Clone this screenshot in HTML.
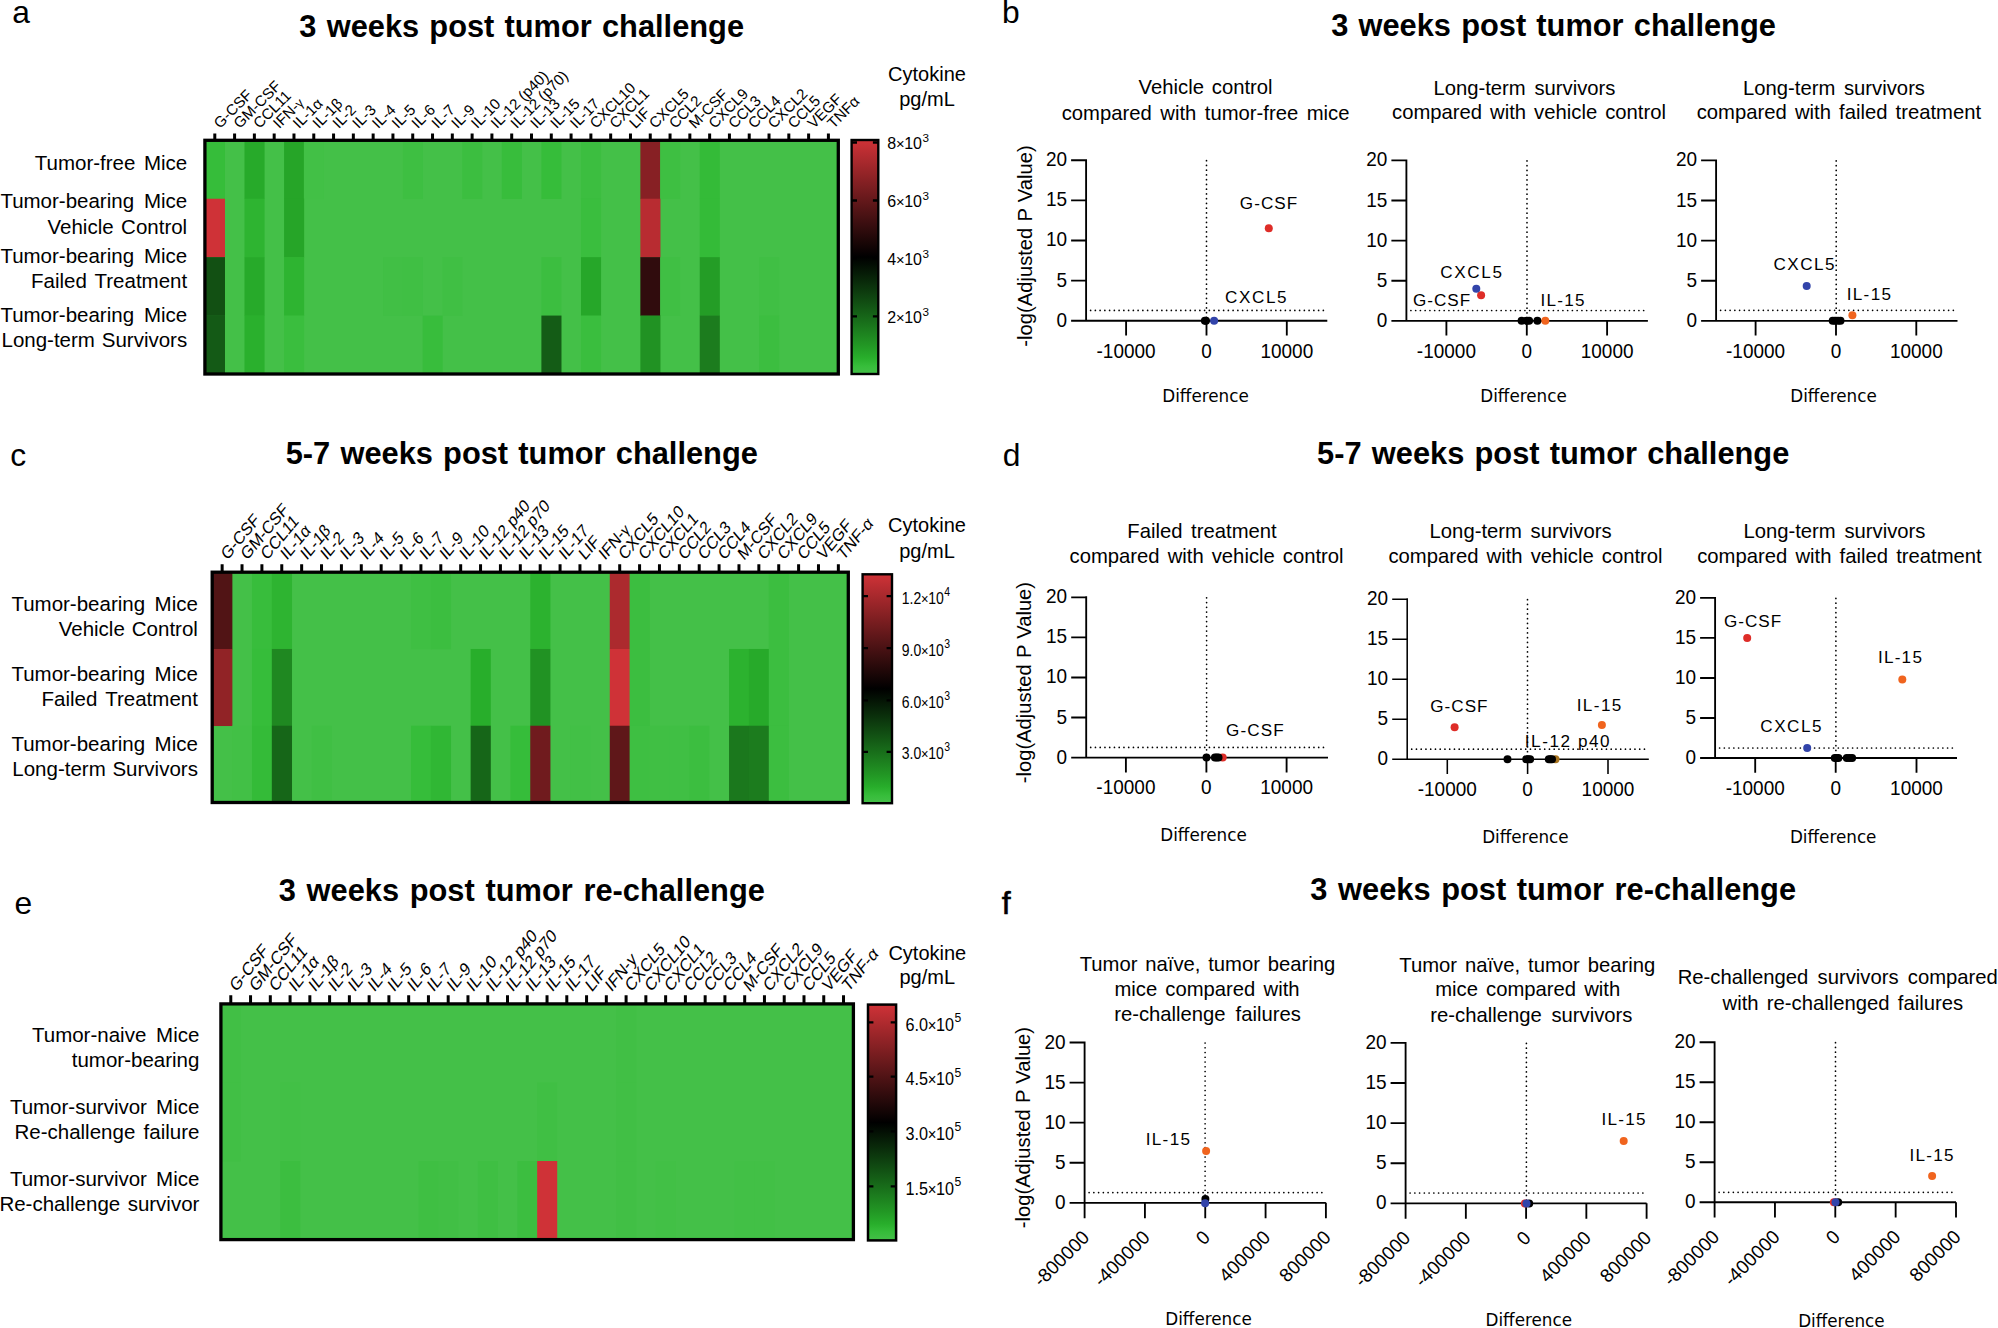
<!DOCTYPE html>
<html lang="en"><head><meta charset="utf-8"><title>Cytokine figure</title>
<style>html,body{margin:0;padding:0;background:#fff}svg{display:block}text{font-family:"Liberation Sans",sans-serif;fill:#000}</style>
</head><body>
<svg width="1998" height="1328" viewBox="0 0 1998 1328">
<defs><linearGradient id="cb" x1="0" y1="0" x2="0" y2="1"><stop offset="0" stop-color="#cf3237"/><stop offset="0.5" stop-color="#000000"/><stop offset="0.625" stop-color="#0b320c"/><stop offset="0.75" stop-color="#166418"/><stop offset="0.875" stop-color="#229624"/><stop offset="0.93" stop-color="#28ae2b"/><stop offset="0.965" stop-color="#36bd3a"/><stop offset="1" stop-color="#44c048"/></linearGradient></defs>
<rect width="1998" height="1328" fill="#fff"/>
<text x="12.2" y="23.1" font-size="31.8">a</text>
<text x="1002" y="22.9" font-size="31.8">b</text>
<text x="10.3" y="466.4" font-size="31.8">c</text>
<text x="1002.7" y="466.2" font-size="31.8">d</text>
<text x="14.5" y="914" font-size="31.8">e</text>
<text x="1001.7" y="913.9" font-size="32" stroke="#000" stroke-width="0.6">f</text>
<text x="521.7" y="36.6" font-size="30.8" text-anchor="middle" font-weight="bold" word-spacing="1.63">3 weeks post tumor challenge</text>
<text x="1553.5" y="35.6" font-size="30.8" text-anchor="middle" font-weight="bold" word-spacing="1.63">3 weeks post tumor challenge</text>
<text x="521.8" y="464" font-size="30.8" text-anchor="middle" font-weight="bold" word-spacing="1.66">5-7 weeks post tumor challenge</text>
<text x="1553.2" y="463.6" font-size="30.8" text-anchor="middle" font-weight="bold" word-spacing="1.66">5-7 weeks post tumor challenge</text>
<text x="521.8" y="901" font-size="30.8" text-anchor="middle" font-weight="bold" word-spacing="2.16">3 weeks post tumor re-challenge</text>
<text x="1553.2" y="900" font-size="30.8" text-anchor="middle" font-weight="bold" word-spacing="2.04">3 weeks post tumor re-challenge</text>
<rect x="204.9" y="140.3" width="633.4" height="233.7" fill="#44c048"/>
<rect x="204.9" y="140.3" width="20.09" height="58.72" fill="#36bd3a"/>
<rect x="244.49" y="140.3" width="20.09" height="58.72" fill="#27aa2a"/>
<rect x="284.07" y="140.3" width="20.09" height="58.72" fill="#26a528"/>
<rect x="303.87" y="140.3" width="20.09" height="58.72" fill="#42c046"/>
<rect x="402.84" y="140.3" width="20.09" height="58.72" fill="#3ebf42"/>
<rect x="462.22" y="140.3" width="20.09" height="58.72" fill="#3cbe40"/>
<rect x="501.81" y="140.3" width="20.09" height="58.72" fill="#38bd3c"/>
<rect x="541.39" y="140.3" width="20.09" height="58.72" fill="#36bd3a"/>
<rect x="580.98" y="140.3" width="20.09" height="58.72" fill="#3cbe40"/>
<rect x="640.36" y="140.3" width="20.09" height="58.72" fill="#872024"/>
<rect x="660.16" y="140.3" width="20.09" height="58.72" fill="#3ebf42"/>
<rect x="699.74" y="140.3" width="20.09" height="58.72" fill="#34bb38"/>
<rect x="204.9" y="198.73" width="20.09" height="58.72" fill="#cf3237"/>
<rect x="244.49" y="198.73" width="20.09" height="58.72" fill="#2eb431"/>
<rect x="284.07" y="198.73" width="20.09" height="58.72" fill="#26a528"/>
<rect x="580.98" y="198.73" width="20.09" height="58.72" fill="#3abe3e"/>
<rect x="640.36" y="198.73" width="20.09" height="58.72" fill="#b82c31"/>
<rect x="699.74" y="198.73" width="20.09" height="58.72" fill="#34bb38"/>
<rect x="204.9" y="257.15" width="20.09" height="58.72" fill="#125013"/>
<rect x="244.49" y="257.15" width="20.09" height="58.72" fill="#27aa2a"/>
<rect x="284.07" y="257.15" width="20.09" height="58.72" fill="#2eb431"/>
<rect x="383.04" y="257.15" width="20.09" height="58.72" fill="#41bf45"/>
<rect x="402.84" y="257.15" width="20.09" height="58.72" fill="#40bf44"/>
<rect x="442.42" y="257.15" width="20.09" height="58.72" fill="#40bf44"/>
<rect x="541.39" y="257.15" width="20.09" height="58.72" fill="#3cbe40"/>
<rect x="580.98" y="257.15" width="20.09" height="58.72" fill="#26a729"/>
<rect x="640.36" y="257.15" width="20.09" height="58.72" fill="#300c0d"/>
<rect x="660.16" y="257.15" width="20.09" height="58.72" fill="#40bf44"/>
<rect x="699.74" y="257.15" width="20.09" height="58.72" fill="#249d26"/>
<rect x="759.12" y="257.15" width="20.09" height="58.72" fill="#40bf44"/>
<rect x="204.9" y="315.57" width="20.09" height="58.72" fill="#145a16"/>
<rect x="244.49" y="315.57" width="20.09" height="58.72" fill="#2ab02d"/>
<rect x="284.07" y="315.57" width="20.09" height="58.72" fill="#3abe3e"/>
<rect x="422.63" y="315.57" width="20.09" height="58.72" fill="#38bd3c"/>
<rect x="541.39" y="315.57" width="20.09" height="58.72" fill="#145c16"/>
<rect x="580.98" y="315.57" width="20.09" height="58.72" fill="#3abe3e"/>
<rect x="640.36" y="315.57" width="20.09" height="58.72" fill="#219223"/>
<rect x="699.74" y="315.57" width="20.09" height="58.72" fill="#1c7c1e"/>
<rect x="759.12" y="315.57" width="20.09" height="58.72" fill="#3cbe40"/>
<rect x="204.9" y="140.3" width="633.4" height="233.7" fill="none" stroke="#000" stroke-width="3.3"/>
<path d="M214.8 133.55V140.3M234.59 133.55V140.3M254.38 133.55V140.3M274.18 133.55V140.3M293.97 133.55V140.3M313.77 133.55V140.3M333.56 133.55V140.3M353.35 133.55V140.3M373.15 133.55V140.3M392.94 133.55V140.3M412.73 133.55V140.3M432.53 133.55V140.3M452.32 133.55V140.3M472.12 133.55V140.3M491.91 133.55V140.3M511.7 133.55V140.3M531.5 133.55V140.3M551.29 133.55V140.3M571.08 133.55V140.3M590.88 133.55V140.3M610.67 133.55V140.3M630.47 133.55V140.3M650.26 133.55V140.3M670.05 133.55V140.3M689.85 133.55V140.3M709.64 133.55V140.3M729.43 133.55V140.3M749.23 133.55V140.3M769.02 133.55V140.3M788.82 133.55V140.3M808.61 133.55V140.3M828.4 133.55V140.3" stroke="#000" stroke-width="3" fill="none"/>
<text transform="translate(219.9 129.15) rotate(-45)" font-size="15.1">G-CSF</text>
<text transform="translate(239.69 129.15) rotate(-45)" font-size="15.1">GM-CSF</text>
<text transform="translate(259.48 129.15) rotate(-45)" font-size="15.1">CCL11</text>
<text transform="translate(279.28 129.15) rotate(-45)" font-size="15.1">IFN-<tspan font-size="13">γ</tspan></text>
<text transform="translate(299.07 129.15) rotate(-45)" font-size="15.1">IL-1α</text>
<text transform="translate(318.87 129.15) rotate(-45)" font-size="15.1">IL-1β</text>
<text transform="translate(338.66 129.15) rotate(-45)" font-size="15.1">IL-2</text>
<text transform="translate(358.45 129.15) rotate(-45)" font-size="15.1">IL-3</text>
<text transform="translate(378.25 129.15) rotate(-45)" font-size="15.1">IL-4</text>
<text transform="translate(398.04 129.15) rotate(-45)" font-size="15.1">IL-5</text>
<text transform="translate(417.83 129.15) rotate(-45)" font-size="15.1">IL-6</text>
<text transform="translate(437.63 129.15) rotate(-45)" font-size="15.1">IL-7</text>
<text transform="translate(457.42 129.15) rotate(-45)" font-size="15.1">IL-9</text>
<text transform="translate(477.22 129.15) rotate(-45)" font-size="15.1">IL-10</text>
<text transform="translate(497.01 129.15) rotate(-45)" font-size="15.1">IL-12 (p40)</text>
<text transform="translate(516.8 129.15) rotate(-45)" font-size="15.1">IL-12 (p70)</text>
<text transform="translate(536.6 129.15) rotate(-45)" font-size="15.1">IL-13</text>
<text transform="translate(556.39 129.15) rotate(-45)" font-size="15.1">IL-15</text>
<text transform="translate(576.18 129.15) rotate(-45)" font-size="15.1">IL-17</text>
<text transform="translate(595.98 129.15) rotate(-45)" font-size="15.1">CXCL10</text>
<text transform="translate(615.77 129.15) rotate(-45)" font-size="15.1">CXCL1</text>
<text transform="translate(635.57 129.15) rotate(-45)" font-size="15.1">LIF</text>
<text transform="translate(655.36 129.15) rotate(-45)" font-size="15.1">CXCL5</text>
<text transform="translate(675.15 129.15) rotate(-45)" font-size="15.1">CCL2</text>
<text transform="translate(694.95 129.15) rotate(-45)" font-size="15.1">M-CSF</text>
<text transform="translate(714.74 129.15) rotate(-45)" font-size="15.1">CXCL9</text>
<text transform="translate(734.53 129.15) rotate(-45)" font-size="15.1">CCL3</text>
<text transform="translate(754.33 129.15) rotate(-45)" font-size="15.1">CCL4</text>
<text transform="translate(774.12 129.15) rotate(-45)" font-size="15.1">CXCL2</text>
<text transform="translate(793.92 129.15) rotate(-45)" font-size="15.1">CCL5</text>
<text transform="translate(813.71 129.15) rotate(-45)" font-size="15.1">VEGF</text>
<text transform="translate(833.5 129.15) rotate(-45)" font-size="15.1">TNFα</text>
<rect x="851.6" y="140" width="26.7" height="234" fill="url(#cb)" stroke="#000" stroke-width="2.4"/>
<path d="M851.6 142.5h5.4M878.3 142.5h-5.4M851.6 200.5h5.4M878.3 200.5h-5.4M851.6 258.4h5.4M878.3 258.4h-5.4M851.6 316.3h5.4M878.3 316.3h-5.4" stroke="#000" stroke-width="2.3" fill="none"/>
<text transform="translate(887.3 149.3) scale(1.0 1)" font-size="16">8<tspan dx="-0.3" font-size="14.72">×</tspan><tspan dx="-0.3">10</tspan><tspan dy="-7" dx="0.5" font-size="11.7">3</tspan></text>
<text transform="translate(887.3 207.3) scale(1.0 1)" font-size="16">6<tspan dx="-0.3" font-size="14.72">×</tspan><tspan dx="-0.3">10</tspan><tspan dy="-7" dx="0.5" font-size="11.7">3</tspan></text>
<text transform="translate(887.3 265.2) scale(1.0 1)" font-size="16">4<tspan dx="-0.3" font-size="14.72">×</tspan><tspan dx="-0.3">10</tspan><tspan dy="-7" dx="0.5" font-size="11.7">3</tspan></text>
<text transform="translate(887.3 323.1) scale(1.0 1)" font-size="16">2<tspan dx="-0.3" font-size="14.72">×</tspan><tspan dx="-0.3">10</tspan><tspan dy="-7" dx="0.5" font-size="11.7">3</tspan></text>
<text x="927" y="80.7" font-size="20" text-anchor="middle">Cytokine</text>
<text x="927" y="105.9" font-size="20" text-anchor="middle">pg/mL</text>
<text x="187.2" y="169.6" font-size="20.5" text-anchor="end" word-spacing="2.8">Tumor-free Mice</text>
<text x="187.2" y="208.2" font-size="20.5" text-anchor="end" word-spacing="4.14">Tumor-bearing Mice</text>
<text x="187.2" y="233.5" font-size="20.5" text-anchor="end" word-spacing="1.81">Vehicle Control</text>
<text x="187.2" y="263.4" font-size="20.5" text-anchor="end" word-spacing="4.14">Tumor-bearing Mice</text>
<text x="187.2" y="288.3" font-size="20.5" text-anchor="end" word-spacing="2.38">Failed Treatment</text>
<text x="187.2" y="321.8" font-size="20.5" text-anchor="end" word-spacing="4.14">Tumor-bearing Mice</text>
<text x="187.2" y="346.7" font-size="20.5" text-anchor="end" word-spacing="1.14">Long-term Survivors</text>
<rect x="212.2" y="572.2" width="636.1" height="230.3" fill="#44c048"/>
<rect x="212.2" y="572.2" width="20.18" height="77.07" fill="#511415"/>
<rect x="212.2" y="648.97" width="20.18" height="77.07" fill="#912326"/>
<rect x="232.08" y="725.73" width="20.18" height="77.07" fill="#42c046"/>
<rect x="251.96" y="572.2" width="20.18" height="77.07" fill="#38bd3c"/>
<rect x="251.96" y="648.97" width="20.18" height="77.07" fill="#36bd3a"/>
<rect x="251.96" y="725.73" width="20.18" height="77.07" fill="#34bb38"/>
<rect x="271.83" y="572.2" width="20.18" height="77.07" fill="#2eb431"/>
<rect x="271.83" y="648.97" width="20.18" height="77.07" fill="#1f8821"/>
<rect x="271.83" y="725.73" width="20.18" height="77.07" fill="#166618"/>
<rect x="311.59" y="725.73" width="20.18" height="77.07" fill="#40bf44"/>
<rect x="410.98" y="572.2" width="20.18" height="77.07" fill="#3fbf43"/>
<rect x="410.98" y="725.73" width="20.18" height="77.07" fill="#36bd3a"/>
<rect x="430.86" y="572.2" width="20.18" height="77.07" fill="#3cbe40"/>
<rect x="430.86" y="725.73" width="20.18" height="77.07" fill="#30b734"/>
<rect x="470.62" y="648.97" width="20.18" height="77.07" fill="#28ae2b"/>
<rect x="470.62" y="725.73" width="20.18" height="77.07" fill="#166618"/>
<rect x="510.37" y="725.73" width="20.18" height="77.07" fill="#36bd3a"/>
<rect x="530.25" y="572.2" width="20.18" height="77.07" fill="#2cb22f"/>
<rect x="530.25" y="648.97" width="20.18" height="77.07" fill="#219223"/>
<rect x="530.25" y="725.73" width="20.18" height="77.07" fill="#701b1e"/>
<rect x="570.01" y="725.73" width="20.18" height="77.07" fill="#42c046"/>
<rect x="609.76" y="572.2" width="20.18" height="77.07" fill="#ac2a2e"/>
<rect x="609.76" y="648.97" width="20.18" height="77.07" fill="#cf3237"/>
<rect x="609.76" y="725.73" width="20.18" height="77.07" fill="#5f1719"/>
<rect x="629.64" y="572.2" width="20.18" height="77.07" fill="#3cbe40"/>
<rect x="629.64" y="648.97" width="20.18" height="77.07" fill="#3cbe40"/>
<rect x="629.64" y="725.73" width="20.18" height="77.07" fill="#3ebf42"/>
<rect x="649.52" y="725.73" width="20.18" height="77.07" fill="#40bf44"/>
<rect x="669.4" y="725.73" width="20.18" height="77.07" fill="#40bf44"/>
<rect x="689.27" y="725.73" width="20.18" height="77.07" fill="#3cbe40"/>
<rect x="729.03" y="648.97" width="20.18" height="77.07" fill="#2cb22f"/>
<rect x="729.03" y="725.73" width="20.18" height="77.07" fill="#1b781d"/>
<rect x="748.91" y="648.97" width="20.18" height="77.07" fill="#27aa2a"/>
<rect x="748.91" y="725.73" width="20.18" height="77.07" fill="#1c7c1e"/>
<rect x="768.79" y="572.2" width="20.18" height="77.07" fill="#3cbe40"/>
<rect x="768.79" y="648.97" width="20.18" height="77.07" fill="#3cbe40"/>
<rect x="768.79" y="725.73" width="20.18" height="77.07" fill="#3cbe40"/>
<rect x="212.2" y="572.2" width="636.1" height="230.3" fill="none" stroke="#000" stroke-width="3.3"/>
<path d="M222.14 564.35V572.2M242.02 564.35V572.2M261.9 564.35V572.2M281.77 564.35V572.2M301.65 564.35V572.2M321.53 564.35V572.2M341.41 564.35V572.2M361.29 564.35V572.2M381.16 564.35V572.2M401.04 564.35V572.2M420.92 564.35V572.2M440.8 564.35V572.2M460.68 564.35V572.2M480.55 564.35V572.2M500.43 564.35V572.2M520.31 564.35V572.2M540.19 564.35V572.2M560.07 564.35V572.2M579.95 564.35V572.2M599.82 564.35V572.2M619.7 564.35V572.2M639.58 564.35V572.2M659.46 564.35V572.2M679.34 564.35V572.2M699.21 564.35V572.2M719.09 564.35V572.2M738.97 564.35V572.2M758.85 564.35V572.2M778.73 564.35V572.2M798.6 564.35V572.2M818.48 564.35V572.2M838.36 564.35V572.2" stroke="#000" stroke-width="3" fill="none"/>
<text transform="translate(227.24 561.05) scale(1 1.2) rotate(-45)" font-size="15.1">G-CSF</text>
<text transform="translate(247.12 561.05) scale(1 1.2) rotate(-45)" font-size="15.1">GM-CSF</text>
<text transform="translate(267 561.05) scale(1 1.2) rotate(-45)" font-size="15.1">CCL11</text>
<text transform="translate(286.87 561.05) scale(1 1.2) rotate(-45)" font-size="15.1">IL-1α</text>
<text transform="translate(306.75 561.05) scale(1 1.2) rotate(-45)" font-size="15.1">IL-1β</text>
<text transform="translate(326.63 561.05) scale(1 1.2) rotate(-45)" font-size="15.1">IL-2</text>
<text transform="translate(346.51 561.05) scale(1 1.2) rotate(-45)" font-size="15.1">IL-3</text>
<text transform="translate(366.39 561.05) scale(1 1.2) rotate(-45)" font-size="15.1">IL-4</text>
<text transform="translate(386.26 561.05) scale(1 1.2) rotate(-45)" font-size="15.1">IL-5</text>
<text transform="translate(406.14 561.05) scale(1 1.2) rotate(-45)" font-size="15.1">IL-6</text>
<text transform="translate(426.02 561.05) scale(1 1.2) rotate(-45)" font-size="15.1">IL-7</text>
<text transform="translate(445.9 561.05) scale(1 1.2) rotate(-45)" font-size="15.1">IL-9</text>
<text transform="translate(465.78 561.05) scale(1 1.2) rotate(-45)" font-size="15.1">IL-10</text>
<text transform="translate(485.65 561.05) scale(1 1.2) rotate(-45)" font-size="15.1">IL-12 p40</text>
<text transform="translate(505.53 561.05) scale(1 1.2) rotate(-45)" font-size="15.1">IL-12 p70</text>
<text transform="translate(525.41 561.05) scale(1 1.2) rotate(-45)" font-size="15.1">IL-13</text>
<text transform="translate(545.29 561.05) scale(1 1.2) rotate(-45)" font-size="15.1">IL-15</text>
<text transform="translate(565.17 561.05) scale(1 1.2) rotate(-45)" font-size="15.1">IL-17</text>
<text transform="translate(585.05 561.05) scale(1 1.2) rotate(-45)" font-size="15.1">LIF</text>
<text transform="translate(604.92 561.05) scale(1 1.2) rotate(-45)" font-size="15.1">IFN-<tspan font-size="13">γ</tspan></text>
<text transform="translate(624.8 561.05) scale(1 1.2) rotate(-45)" font-size="15.1">CXCL5</text>
<text transform="translate(644.68 561.05) scale(1 1.2) rotate(-45)" font-size="15.1">CXCL10</text>
<text transform="translate(664.56 561.05) scale(1 1.2) rotate(-45)" font-size="15.1">CXCL1</text>
<text transform="translate(684.44 561.05) scale(1 1.2) rotate(-45)" font-size="15.1">CCL2</text>
<text transform="translate(704.31 561.05) scale(1 1.2) rotate(-45)" font-size="15.1">CCL3</text>
<text transform="translate(724.19 561.05) scale(1 1.2) rotate(-45)" font-size="15.1">CCL4</text>
<text transform="translate(744.07 561.05) scale(1 1.2) rotate(-45)" font-size="15.1">M-CSF</text>
<text transform="translate(763.95 561.05) scale(1 1.2) rotate(-45)" font-size="15.1">CXCL2</text>
<text transform="translate(783.83 561.05) scale(1 1.2) rotate(-45)" font-size="15.1">CXCL9</text>
<text transform="translate(803.7 561.05) scale(1 1.2) rotate(-45)" font-size="15.1">CCL5</text>
<text transform="translate(823.58 561.05) scale(1 1.2) rotate(-45)" font-size="15.1">VEGF</text>
<text transform="translate(843.46 561.05) scale(1 1.2) rotate(-45)" font-size="15.1">TNF-α</text>
<rect x="862.6" y="574.3" width="29.4" height="228.9" fill="url(#cb)" stroke="#000" stroke-width="2.4"/>
<path d="M862.6 596.2h5.4M892 596.2h-5.4M862.6 648.2h5.4M892 648.2h-5.4M862.6 700.3h5.4M892 700.3h-5.4M862.6 751.8h5.4M892 751.8h-5.4" stroke="#000" stroke-width="2.3" fill="none"/>
<text transform="translate(901.8 603.8) scale(0.875 1)" font-size="16">1.2<tspan dx="-0.3" font-size="14.72">×</tspan><tspan dx="-0.3">10</tspan><tspan dy="-8" dx="0.5" font-size="12">4</tspan></text>
<text transform="translate(901.8 655.8) scale(0.875 1)" font-size="16">9.0<tspan dx="-0.3" font-size="14.72">×</tspan><tspan dx="-0.3">10</tspan><tspan dy="-8" dx="0.5" font-size="12">3</tspan></text>
<text transform="translate(901.8 707.9) scale(0.875 1)" font-size="16">6.0<tspan dx="-0.3" font-size="14.72">×</tspan><tspan dx="-0.3">10</tspan><tspan dy="-8" dx="0.5" font-size="12">3</tspan></text>
<text transform="translate(901.8 759.4) scale(0.875 1)" font-size="16">3.0<tspan dx="-0.3" font-size="14.72">×</tspan><tspan dx="-0.3">10</tspan><tspan dy="-8" dx="0.5" font-size="12">3</tspan></text>
<text x="927" y="532" font-size="20" text-anchor="middle">Cytokine</text>
<text x="927" y="557.6" font-size="20" text-anchor="middle">pg/mL</text>
<text x="197.9" y="610.6" font-size="20.5" text-anchor="end" word-spacing="3.84">Tumor-bearing Mice</text>
<text x="197.9" y="635.8" font-size="20.5" text-anchor="end" word-spacing="1.31">Vehicle Control</text>
<text x="197.9" y="680.6" font-size="20.5" text-anchor="end" word-spacing="3.84">Tumor-bearing Mice</text>
<text x="197.9" y="705.6" font-size="20.5" text-anchor="end" word-spacing="2.58">Failed Treatment</text>
<text x="197.9" y="751.3" font-size="20.5" text-anchor="end" word-spacing="3.84">Tumor-bearing Mice</text>
<text x="197.9" y="776.2" font-size="20.5" text-anchor="end" word-spacing="1.04">Long-term Survivors</text>
<rect x="220.9" y="1003.9" width="632.5" height="235.7" fill="#44c048"/>
<rect x="220.9" y="1003.9" width="20.07" height="78.87" fill="#41bf45"/>
<rect x="220.9" y="1082.47" width="20.07" height="78.87" fill="#41bf45"/>
<rect x="280.2" y="1082.47" width="20.07" height="78.87" fill="#42c046"/>
<rect x="280.2" y="1161.03" width="20.07" height="78.87" fill="#3cbe40"/>
<rect x="418.56" y="1161.03" width="20.07" height="78.87" fill="#3fbf43"/>
<rect x="438.32" y="1161.03" width="20.07" height="78.87" fill="#41bf45"/>
<rect x="477.85" y="1161.03" width="20.07" height="78.87" fill="#3fbf43"/>
<rect x="517.38" y="1161.03" width="20.07" height="78.87" fill="#3cbe40"/>
<rect x="537.15" y="1082.47" width="20.07" height="78.87" fill="#40bf44"/>
<rect x="537.15" y="1161.03" width="20.07" height="78.87" fill="#cf3237"/>
<rect x="616.21" y="1003.9" width="20.07" height="78.87" fill="#41bf45"/>
<rect x="616.21" y="1082.47" width="20.07" height="78.87" fill="#41bf45"/>
<rect x="616.21" y="1161.03" width="20.07" height="78.87" fill="#41bf45"/>
<rect x="655.74" y="1161.03" width="20.07" height="78.87" fill="#42c046"/>
<rect x="734.81" y="1161.03" width="20.07" height="78.87" fill="#42c046"/>
<rect x="754.57" y="1161.03" width="20.07" height="78.87" fill="#42c046"/>
<rect x="220.9" y="1003.9" width="632.5" height="235.7" fill="none" stroke="#000" stroke-width="3.3"/>
<path d="M230.78 995.25V1003.9M250.55 995.25V1003.9M270.31 995.25V1003.9M290.08 995.25V1003.9M309.85 995.25V1003.9M329.61 995.25V1003.9M349.38 995.25V1003.9M369.14 995.25V1003.9M388.91 995.25V1003.9M408.67 995.25V1003.9M428.44 995.25V1003.9M448.2 995.25V1003.9M467.97 995.25V1003.9M487.74 995.25V1003.9M507.5 995.25V1003.9M527.27 995.25V1003.9M547.03 995.25V1003.9M566.8 995.25V1003.9M586.56 995.25V1003.9M606.33 995.25V1003.9M626.1 995.25V1003.9M645.86 995.25V1003.9M665.63 995.25V1003.9M685.39 995.25V1003.9M705.16 995.25V1003.9M724.92 995.25V1003.9M744.69 995.25V1003.9M764.45 995.25V1003.9M784.22 995.25V1003.9M803.99 995.25V1003.9M823.75 995.25V1003.9M843.52 995.25V1003.9" stroke="#000" stroke-width="3" fill="none"/>
<text transform="translate(235.88 992.75) scale(1 1.24) rotate(-45)" font-size="15.1">G-CSF</text>
<text transform="translate(255.65 992.75) scale(1 1.24) rotate(-45)" font-size="15.1">GM-CSF</text>
<text transform="translate(275.41 992.75) scale(1 1.24) rotate(-45)" font-size="15.1">CCL11</text>
<text transform="translate(295.18 992.75) scale(1 1.24) rotate(-45)" font-size="15.1">IL-1α</text>
<text transform="translate(314.95 992.75) scale(1 1.24) rotate(-45)" font-size="15.1">IL-1β</text>
<text transform="translate(334.71 992.75) scale(1 1.24) rotate(-45)" font-size="15.1">IL-2</text>
<text transform="translate(354.48 992.75) scale(1 1.24) rotate(-45)" font-size="15.1">IL-3</text>
<text transform="translate(374.24 992.75) scale(1 1.24) rotate(-45)" font-size="15.1">IL-4</text>
<text transform="translate(394.01 992.75) scale(1 1.24) rotate(-45)" font-size="15.1">IL-5</text>
<text transform="translate(413.77 992.75) scale(1 1.24) rotate(-45)" font-size="15.1">IL-6</text>
<text transform="translate(433.54 992.75) scale(1 1.24) rotate(-45)" font-size="15.1">IL-7</text>
<text transform="translate(453.3 992.75) scale(1 1.24) rotate(-45)" font-size="15.1">IL-9</text>
<text transform="translate(473.07 992.75) scale(1 1.24) rotate(-45)" font-size="15.1">IL-10</text>
<text transform="translate(492.84 992.75) scale(1 1.24) rotate(-45)" font-size="15.1">IL-12 p40</text>
<text transform="translate(512.6 992.75) scale(1 1.24) rotate(-45)" font-size="15.1">IL-12 p70</text>
<text transform="translate(532.37 992.75) scale(1 1.24) rotate(-45)" font-size="15.1">IL-13</text>
<text transform="translate(552.13 992.75) scale(1 1.24) rotate(-45)" font-size="15.1">IL-15</text>
<text transform="translate(571.9 992.75) scale(1 1.24) rotate(-45)" font-size="15.1">IL-17</text>
<text transform="translate(591.66 992.75) scale(1 1.24) rotate(-45)" font-size="15.1">LIF</text>
<text transform="translate(611.43 992.75) scale(1 1.24) rotate(-45)" font-size="15.1">IFN-y</text>
<text transform="translate(631.2 992.75) scale(1 1.24) rotate(-45)" font-size="15.1">CXCL5</text>
<text transform="translate(650.96 992.75) scale(1 1.24) rotate(-45)" font-size="15.1">CXCL10</text>
<text transform="translate(670.73 992.75) scale(1 1.24) rotate(-45)" font-size="15.1">CXCL1</text>
<text transform="translate(690.49 992.75) scale(1 1.24) rotate(-45)" font-size="15.1">CCL2</text>
<text transform="translate(710.26 992.75) scale(1 1.24) rotate(-45)" font-size="15.1">CCL3</text>
<text transform="translate(730.02 992.75) scale(1 1.24) rotate(-45)" font-size="15.1">CCL4</text>
<text transform="translate(749.79 992.75) scale(1 1.24) rotate(-45)" font-size="15.1">M-CSF</text>
<text transform="translate(769.55 992.75) scale(1 1.24) rotate(-45)" font-size="15.1">CXCL2</text>
<text transform="translate(789.32 992.75) scale(1 1.24) rotate(-45)" font-size="15.1">CXCL9</text>
<text transform="translate(809.09 992.75) scale(1 1.24) rotate(-45)" font-size="15.1">CCL5</text>
<text transform="translate(828.85 992.75) scale(1 1.24) rotate(-45)" font-size="15.1">VEGF</text>
<text transform="translate(848.62 992.75) scale(1 1.24) rotate(-45)" font-size="15.1">TNF-α</text>
<rect x="868" y="1004.6" width="28.1" height="235.8" fill="url(#cb)" stroke="#000" stroke-width="2.5"/>
<path d="M868 1022.4h5.4M896.1 1022.4h-5.4M868 1076.7h5.4M896.1 1076.7h-5.4M868 1131.3h5.4M896.1 1131.3h-5.4M868 1186.3h5.4M896.1 1186.3h-5.4" stroke="#000" stroke-width="2.3" fill="none"/>
<text transform="translate(905.4 1030.8) scale(0.9 1)" font-size="18">6.0<tspan dx="-0.3" font-size="16.56">×</tspan><tspan dx="-0.3">10</tspan><tspan dy="-8.4" dx="0.5" font-size="13.5">5</tspan></text>
<text transform="translate(905.4 1085.1) scale(0.9 1)" font-size="18">4.5<tspan dx="-0.3" font-size="16.56">×</tspan><tspan dx="-0.3">10</tspan><tspan dy="-8.4" dx="0.5" font-size="13.5">5</tspan></text>
<text transform="translate(905.4 1139.7) scale(0.9 1)" font-size="18">3.0<tspan dx="-0.3" font-size="16.56">×</tspan><tspan dx="-0.3">10</tspan><tspan dy="-8.4" dx="0.5" font-size="13.5">5</tspan></text>
<text transform="translate(905.4 1194.7) scale(0.9 1)" font-size="18">1.5<tspan dx="-0.3" font-size="16.56">×</tspan><tspan dx="-0.3">10</tspan><tspan dy="-8.4" dx="0.5" font-size="13.5">5</tspan></text>
<text x="927.3" y="959.7" font-size="20" text-anchor="middle">Cytokine</text>
<text x="927.3" y="984" font-size="20" text-anchor="middle">pg/mL</text>
<text x="199.4" y="1042.2" font-size="20.5" text-anchor="end" word-spacing="4.12">Tumor-naive Mice</text>
<text x="199.4" y="1067.1" font-size="20.5" text-anchor="end" word-spacing="5">tumor-bearing</text>
<text x="199.4" y="1114.3" font-size="20.5" text-anchor="end" word-spacing="3.47">Tumor-survivor Mice</text>
<text x="199.4" y="1139.2" font-size="20.5" text-anchor="end" word-spacing="2.57">Re-challenge failure</text>
<text x="199.4" y="1186" font-size="20.5" text-anchor="end" word-spacing="3.47">Tumor-survivor Mice</text>
<text x="199.4" y="1210.9" font-size="20.5" text-anchor="end" word-spacing="1.75">Re-challenge survivor</text>
<path d="M1206.5 160.7V320.7M1090.6 310.4H1327.3" stroke="#000" stroke-width="1.7" stroke-linecap="round" stroke-dasharray="0.01 4.74" fill="none"/>
<path d="M1086.1 159.2V320.7M1071.1 320.7H1327.3M1071.1 280.57H1086.1M1071.1 240.45H1086.1M1071.1 200.32H1086.1M1071.1 160.2H1086.1M1126.1 320.7v14.8M1206.5 320.7v14.8M1286.8 320.7v14.8" stroke="#000" stroke-width="1.85" fill="none"/>
<text transform="translate(1067.1 326.7) scale(0.95 1)" font-size="20" text-anchor="end">0</text>
<text transform="translate(1067.1 286.57) scale(0.95 1)" font-size="20" text-anchor="end">5</text>
<text transform="translate(1067.1 246.45) scale(0.95 1)" font-size="20" text-anchor="end">10</text>
<text transform="translate(1067.1 206.32) scale(0.95 1)" font-size="20" text-anchor="end">15</text>
<text transform="translate(1067.1 166.2) scale(0.95 1)" font-size="20" text-anchor="end">20</text>
<text transform="translate(1126.1 358) scale(0.95 1)" font-size="20" text-anchor="middle">-10000</text>
<text transform="translate(1206.5 358) scale(0.95 1)" font-size="20" text-anchor="middle">0</text>
<text transform="translate(1286.8 358) scale(0.95 1)" font-size="20" text-anchor="middle">10000</text>
<circle cx="1204.9" cy="320.7" r="4" fill="#000"/>
<circle cx="1206" cy="320.7" r="4" fill="#000"/>
<circle cx="1214.1" cy="320.7" r="4" fill="#3244aa"/>
<circle cx="1268.8" cy="228.3" r="4" fill="#de2d28"/>
<text x="1239.8" y="209.4" font-size="17.1" letter-spacing="1.05">G-CSF</text>
<text x="1225.1" y="302.8" font-size="17.1" letter-spacing="1.59">CXCL5</text>
<text x="1205.6" y="94.2" font-size="20.25" text-anchor="middle" word-spacing="2.29">Vehicle control</text>
<text x="1205.6" y="119.5" font-size="20.25" text-anchor="middle" word-spacing="2.87">compared with tumor-free mice</text>
<text x="1205.5" y="402.1" font-size="16.8" text-anchor="middle" style="font-family:DejaVu Sans,sans-serif">Difference</text>
<text transform="translate(1031.6 246) rotate(-90)" font-size="20.2" text-anchor="middle" word-spacing="0.6">-log(Adjusted P Value)</text>
<path d="M1527 160.9V320.8M1410.9 310.5H1647.9" stroke="#000" stroke-width="1.7" stroke-linecap="round" stroke-dasharray="0.01 4.74" fill="none"/>
<path d="M1406.4 159.4V320.8M1391.4 320.8H1647.9M1391.4 280.7H1406.4M1391.4 240.6H1406.4M1391.4 200.5H1406.4M1391.4 160.4H1406.4M1446.4 320.8v14.8M1526.8 320.8v14.8M1607.1 320.8v14.8" stroke="#000" stroke-width="1.85" fill="none"/>
<text transform="translate(1387.4 326.8) scale(0.95 1)" font-size="20" text-anchor="end">0</text>
<text transform="translate(1387.4 286.7) scale(0.95 1)" font-size="20" text-anchor="end">5</text>
<text transform="translate(1387.4 246.6) scale(0.95 1)" font-size="20" text-anchor="end">10</text>
<text transform="translate(1387.4 206.5) scale(0.95 1)" font-size="20" text-anchor="end">15</text>
<text transform="translate(1387.4 166.4) scale(0.95 1)" font-size="20" text-anchor="end">20</text>
<text transform="translate(1446.4 358.1) scale(0.95 1)" font-size="20" text-anchor="middle">-10000</text>
<text transform="translate(1526.8 358.1) scale(0.95 1)" font-size="20" text-anchor="middle">0</text>
<text transform="translate(1607.1 358.1) scale(0.95 1)" font-size="20" text-anchor="middle">10000</text>
<circle cx="1521.6" cy="320.8" r="4" fill="#000"/>
<circle cx="1526.6" cy="320.8" r="4" fill="#000"/>
<circle cx="1529.1" cy="320.8" r="4" fill="#000"/>
<circle cx="1537.4" cy="320.8" r="4" fill="#000"/>
<circle cx="1545.3" cy="320.8" r="4" fill="#f0641e"/>
<circle cx="1481.1" cy="295.2" r="4" fill="#de2d28"/>
<circle cx="1476.3" cy="288.8" r="4" fill="#3244aa"/>
<text x="1440.3" y="278.2" font-size="17.1" letter-spacing="1.64">CXCL5</text>
<text x="1413" y="306.1" font-size="17.1" letter-spacing="1">G-CSF</text>
<text x="1540.6" y="306.1" font-size="17.1" letter-spacing="1.26">IL-15</text>
<text x="1524.4" y="94.5" font-size="20.25" text-anchor="middle" word-spacing="3.07">Long-term survivors</text>
<text x="1529" y="119.2" font-size="20.25" text-anchor="middle" word-spacing="2.38">compared with vehicle control</text>
<text x="1523.5" y="402.1" font-size="16.8" text-anchor="middle" style="font-family:DejaVu Sans,sans-serif">Difference</text>
<path d="M1836.2 160.9V320.8M1720.6 310.3H1957.5" stroke="#000" stroke-width="1.7" stroke-linecap="round" stroke-dasharray="0.01 4.74" fill="none"/>
<path d="M1716.1 159.4V320.8M1701.1 320.8H1957.5M1701.1 280.7H1716.1M1701.1 240.6H1716.1M1701.1 200.5H1716.1M1701.1 160.4H1716.1M1755.6 320.8v14.8M1836 320.8v14.8M1916.3 320.8v14.8" stroke="#000" stroke-width="1.85" fill="none"/>
<text transform="translate(1697.1 326.8) scale(0.95 1)" font-size="20" text-anchor="end">0</text>
<text transform="translate(1697.1 286.7) scale(0.95 1)" font-size="20" text-anchor="end">5</text>
<text transform="translate(1697.1 246.6) scale(0.95 1)" font-size="20" text-anchor="end">10</text>
<text transform="translate(1697.1 206.5) scale(0.95 1)" font-size="20" text-anchor="end">15</text>
<text transform="translate(1697.1 166.4) scale(0.95 1)" font-size="20" text-anchor="end">20</text>
<text transform="translate(1755.6 358.1) scale(0.95 1)" font-size="20" text-anchor="middle">-10000</text>
<text transform="translate(1836 358.1) scale(0.95 1)" font-size="20" text-anchor="middle">0</text>
<text transform="translate(1916.3 358.1) scale(0.95 1)" font-size="20" text-anchor="middle">10000</text>
<circle cx="1832.7" cy="320.8" r="4" fill="#000"/>
<circle cx="1835" cy="320.8" r="4" fill="#000"/>
<circle cx="1838" cy="320.8" r="4" fill="#000"/>
<circle cx="1840.5" cy="320.8" r="4" fill="#000"/>
<circle cx="1852.4" cy="315.2" r="4" fill="#f0641e"/>
<circle cx="1806.7" cy="285.9" r="4" fill="#3244aa"/>
<text x="1773.5" y="270" font-size="17.1" letter-spacing="1.49">CXCL5</text>
<text x="1846.7" y="299.7" font-size="17.1" letter-spacing="1.33">IL-15</text>
<text x="1834" y="94.5" font-size="20.25" text-anchor="middle" word-spacing="3.07">Long-term survivors</text>
<text x="1838.9" y="119.2" font-size="20.25" text-anchor="middle" word-spacing="2.5">compared with failed treatment</text>
<text x="1833.5" y="402.1" font-size="16.8" text-anchor="middle" style="font-family:DejaVu Sans,sans-serif">Difference</text>
<path d="M1206.6 597.8V757.6M1090.7 747.4H1328" stroke="#000" stroke-width="1.7" stroke-linecap="round" stroke-dasharray="0.01 4.74" fill="none"/>
<path d="M1086.2 596.3V757.6M1071.2 757.6H1328M1071.2 717.52H1086.2M1071.2 677.45H1086.2M1071.2 637.38H1086.2M1071.2 597.3H1086.2M1125.9 757.6v14.8M1206.4 757.6v14.8M1286.6 757.6v14.8" stroke="#000" stroke-width="1.85" fill="none"/>
<text transform="translate(1067.2 763.6) scale(0.95 1)" font-size="20" text-anchor="end">0</text>
<text transform="translate(1067.2 723.52) scale(0.95 1)" font-size="20" text-anchor="end">5</text>
<text transform="translate(1067.2 683.45) scale(0.95 1)" font-size="20" text-anchor="end">10</text>
<text transform="translate(1067.2 643.38) scale(0.95 1)" font-size="20" text-anchor="end">15</text>
<text transform="translate(1067.2 603.3) scale(0.95 1)" font-size="20" text-anchor="end">20</text>
<text transform="translate(1125.9 794) scale(0.95 1)" font-size="20" text-anchor="middle">-10000</text>
<text transform="translate(1206.4 794) scale(0.95 1)" font-size="20" text-anchor="middle">0</text>
<text transform="translate(1286.6 794) scale(0.95 1)" font-size="20" text-anchor="middle">10000</text>
<circle cx="1222.7" cy="757.6" r="4" fill="#de2d28"/>
<circle cx="1206.5" cy="757.6" r="4" fill="#000"/>
<circle cx="1214.9" cy="757.6" r="4" fill="#000"/>
<circle cx="1216.7" cy="757.6" r="4" fill="#000"/>
<circle cx="1218.5" cy="757.6" r="4" fill="#000"/>
<text x="1226.1" y="736.4" font-size="17.1" letter-spacing="1.1">G-CSF</text>
<text x="1202" y="537.6" font-size="20.25" text-anchor="middle" word-spacing="3">Failed treatment</text>
<text x="1206.6" y="562.5" font-size="20.25" text-anchor="middle" word-spacing="2.42">compared with vehicle control</text>
<text x="1203.5" y="841.3" font-size="16.8" text-anchor="middle" style="font-family:DejaVu Sans,sans-serif">Difference</text>
<text transform="translate(1030.8 682.6) rotate(-90)" font-size="20.2" text-anchor="middle" word-spacing="0.6">-log(Adjusted P Value)</text>
<path d="M1527.5 599.7V759.2M1411.7 749.2H1648.8" stroke="#000" stroke-width="1.7" stroke-linecap="round" stroke-dasharray="0.01 4.74" fill="none"/>
<path d="M1407.2 598.2V759.2M1392.2 759.2H1648.8M1392.2 719.2H1407.2M1392.2 679.2H1407.2M1392.2 639.2H1407.2M1392.2 599.2H1407.2M1447.3 759.2v14.8M1527.6 759.2v14.8M1608 759.2v14.8" stroke="#000" stroke-width="1.55" fill="none"/>
<text transform="translate(1388.2 765.2) scale(0.95 1)" font-size="20" text-anchor="end">0</text>
<text transform="translate(1388.2 725.2) scale(0.95 1)" font-size="20" text-anchor="end">5</text>
<text transform="translate(1388.2 685.2) scale(0.95 1)" font-size="20" text-anchor="end">10</text>
<text transform="translate(1388.2 645.2) scale(0.95 1)" font-size="20" text-anchor="end">15</text>
<text transform="translate(1388.2 605.2) scale(0.95 1)" font-size="20" text-anchor="end">20</text>
<text transform="translate(1447.3 795.6) scale(0.95 1)" font-size="20" text-anchor="middle">-10000</text>
<text transform="translate(1527.6 795.6) scale(0.95 1)" font-size="20" text-anchor="middle">0</text>
<text transform="translate(1608 795.6) scale(0.95 1)" font-size="20" text-anchor="middle">10000</text>
<circle cx="1555.5" cy="759.2" r="4" fill="#a8741f"/>
<circle cx="1507.5" cy="759.2" r="4" fill="#000"/>
<circle cx="1526.3" cy="759.2" r="4" fill="#000"/>
<circle cx="1528.2" cy="759.2" r="4" fill="#000"/>
<circle cx="1530.1" cy="759.2" r="4" fill="#000"/>
<circle cx="1548.8" cy="759.2" r="4" fill="#000"/>
<circle cx="1550.5" cy="759.2" r="4" fill="#000"/>
<circle cx="1552" cy="759.2" r="4" fill="#000"/>
<circle cx="1454.6" cy="727.2" r="4" fill="#de2d28"/>
<circle cx="1601.9" cy="725" r="4" fill="#f0641e"/>
<text x="1430.3" y="711.6" font-size="17.1" letter-spacing="1">G-CSF</text>
<text x="1576.7" y="711" font-size="17.1" letter-spacing="1.43">IL-15</text>
<text x="1524.8" y="747.1" font-size="17.1" letter-spacing="1.57">IL-12 p40</text>
<text x="1520.6" y="537.6" font-size="20.25" text-anchor="middle" word-spacing="3.07">Long-term survivors</text>
<text x="1525.5" y="562.5" font-size="20.25" text-anchor="middle" word-spacing="2.48">compared with vehicle control</text>
<text x="1525.4" y="843" font-size="16.8" text-anchor="middle" style="font-family:DejaVu Sans,sans-serif">Difference</text>
<path d="M1835.9 598.4V758M1719.6 748H1957" stroke="#000" stroke-width="1.7" stroke-linecap="round" stroke-dasharray="0.01 4.74" fill="none"/>
<path d="M1715.1 596.9V758M1700.1 758H1957M1700.1 717.98H1715.1M1700.1 677.95H1715.1M1700.1 637.92H1715.1M1700.1 597.9H1715.1M1755.2 758v14.8M1835.7 758v14.8M1916.5 758v14.8" stroke="#000" stroke-width="1.85" fill="none"/>
<text transform="translate(1696.1 764) scale(0.95 1)" font-size="20" text-anchor="end">0</text>
<text transform="translate(1696.1 723.98) scale(0.95 1)" font-size="20" text-anchor="end">5</text>
<text transform="translate(1696.1 683.95) scale(0.95 1)" font-size="20" text-anchor="end">10</text>
<text transform="translate(1696.1 643.92) scale(0.95 1)" font-size="20" text-anchor="end">15</text>
<text transform="translate(1696.1 603.9) scale(0.95 1)" font-size="20" text-anchor="end">20</text>
<text transform="translate(1755.2 794.5) scale(0.95 1)" font-size="20" text-anchor="middle">-10000</text>
<text transform="translate(1835.7 794.5) scale(0.95 1)" font-size="20" text-anchor="middle">0</text>
<text transform="translate(1916.5 794.5) scale(0.95 1)" font-size="20" text-anchor="middle">10000</text>
<circle cx="1834.8" cy="758" r="4" fill="#000"/>
<circle cx="1836.6" cy="758" r="4" fill="#000"/>
<circle cx="1838.4" cy="758" r="4" fill="#000"/>
<circle cx="1846.8" cy="758" r="4" fill="#000"/>
<circle cx="1849.5" cy="758" r="4" fill="#000"/>
<circle cx="1852.1" cy="758" r="4" fill="#000"/>
<circle cx="1747.2" cy="638" r="4" fill="#de2d28"/>
<circle cx="1902.3" cy="679.4" r="4" fill="#f0641e"/>
<circle cx="1807.2" cy="748" r="4" fill="#3244aa"/>
<text x="1723.9" y="626.8" font-size="17.1" letter-spacing="1">G-CSF</text>
<text x="1877.9" y="662.5" font-size="17.1" letter-spacing="1.26">IL-15</text>
<text x="1760.3" y="732.1" font-size="17.1" letter-spacing="1.52">CXCL5</text>
<text x="1834.4" y="537.6" font-size="20.25" text-anchor="middle" word-spacing="3.07">Long-term survivors</text>
<text x="1839.5" y="562.5" font-size="20.25" text-anchor="middle" word-spacing="2.54">compared with failed treatment</text>
<text x="1833.2" y="843" font-size="16.8" text-anchor="middle" style="font-family:DejaVu Sans,sans-serif">Difference</text>
<path d="M1205.1 1043V1202.8M1089.1 1192.6H1325.9" stroke="#000" stroke-width="1.7" stroke-linecap="round" stroke-dasharray="0.01 4.74" fill="none"/>
<path d="M1084.6 1041.5V1202.8M1069.6 1202.8H1325.9M1069.6 1162.72H1084.6M1069.6 1122.65H1084.6M1069.6 1082.58H1084.6M1069.6 1042.5H1084.6M1084.6 1202.8v15.4M1144.92 1202.8v15.4M1205.25 1202.8v15.4M1265.58 1202.8v15.4M1325.9 1202.8v15.4" stroke="#000" stroke-width="1.85" fill="none"/>
<text transform="translate(1065.6 1208.8) scale(0.95 1)" font-size="20" text-anchor="end">0</text>
<text transform="translate(1065.6 1168.72) scale(0.95 1)" font-size="20" text-anchor="end">5</text>
<text transform="translate(1065.6 1128.65) scale(0.95 1)" font-size="20" text-anchor="end">10</text>
<text transform="translate(1065.6 1088.58) scale(0.95 1)" font-size="20" text-anchor="end">15</text>
<text transform="translate(1065.6 1048.5) scale(0.95 1)" font-size="20" text-anchor="end">20</text>
<text transform="translate(1090.6 1238.5) rotate(-45)" font-size="19" text-anchor="end">-800000</text>
<text transform="translate(1150.92 1238.5) rotate(-45)" font-size="19" text-anchor="end">-400000</text>
<text transform="translate(1211.25 1238.5) rotate(-45)" font-size="19" text-anchor="end">0</text>
<text transform="translate(1271.58 1238.5) rotate(-45)" font-size="19" text-anchor="end">400000</text>
<text transform="translate(1331.9 1238.5) rotate(-45)" font-size="19" text-anchor="end">800000</text>
<circle cx="1205.4" cy="1199" r="4" fill="#000"/>
<circle cx="1205.1" cy="1203.2" r="4" fill="#3244aa"/>
<circle cx="1206.1" cy="1151" r="4" fill="#f0641e"/>
<text x="1145.7" y="1144.7" font-size="17.1" letter-spacing="1.33">IL-15</text>
<text x="1207.5" y="971" font-size="20.25" text-anchor="middle" word-spacing="2.16">Tumor naïve, tumor bearing</text>
<text x="1207" y="995.6" font-size="20.25" text-anchor="middle" word-spacing="2.52">mice compared with</text>
<text x="1207.5" y="1021.3" font-size="20.25" text-anchor="middle" word-spacing="4.25">re-challenge failures</text>
<text x="1208.5" y="1324.9" font-size="16.8" text-anchor="middle" style="font-family:DejaVu Sans,sans-serif">Difference</text>
<text transform="translate(1030.3 1127.6) rotate(-90)" font-size="20.2" text-anchor="middle" word-spacing="0.6">-log(Adjusted P Value)</text>
<path d="M1526.4 1043.4V1203.3M1410.1 1193H1646.6" stroke="#000" stroke-width="1.7" stroke-linecap="round" stroke-dasharray="0.01 4.74" fill="none"/>
<path d="M1405.6 1041.9V1203.3M1390.6 1203.3H1646.6M1390.6 1163.2H1405.6M1390.6 1123.1H1405.6M1390.6 1083H1405.6M1390.6 1042.9H1405.6M1405.6 1203.3v15.4M1465.85 1203.3v15.4M1526.1 1203.3v15.4M1586.35 1203.3v15.4M1646.6 1203.3v15.4" stroke="#000" stroke-width="1.85" fill="none"/>
<text transform="translate(1386.6 1209.3) scale(0.95 1)" font-size="20" text-anchor="end">0</text>
<text transform="translate(1386.6 1169.2) scale(0.95 1)" font-size="20" text-anchor="end">5</text>
<text transform="translate(1386.6 1129.1) scale(0.95 1)" font-size="20" text-anchor="end">10</text>
<text transform="translate(1386.6 1089) scale(0.95 1)" font-size="20" text-anchor="end">15</text>
<text transform="translate(1386.6 1048.9) scale(0.95 1)" font-size="20" text-anchor="end">20</text>
<text transform="translate(1411.6 1239) rotate(-45)" font-size="19" text-anchor="end">-800000</text>
<text transform="translate(1471.85 1239) rotate(-45)" font-size="19" text-anchor="end">-400000</text>
<text transform="translate(1532.1 1239) rotate(-45)" font-size="19" text-anchor="end">0</text>
<text transform="translate(1592.35 1239) rotate(-45)" font-size="19" text-anchor="end">400000</text>
<text transform="translate(1652.6 1239) rotate(-45)" font-size="19" text-anchor="end">800000</text>
<circle cx="1524.9" cy="1203.4" r="4" fill="#de2d28"/>
<circle cx="1529.2" cy="1203.4" r="4" fill="#000"/>
<circle cx="1526.5" cy="1203.4" r="4" fill="#3244aa"/>
<circle cx="1623.7" cy="1140.9" r="4" fill="#f0641e"/>
<text x="1601.4" y="1125.4" font-size="17.1" letter-spacing="1.31">IL-15</text>
<text x="1527.3" y="972.1" font-size="20.25" text-anchor="middle" word-spacing="2.3">Tumor naïve, tumor bearing</text>
<text x="1527.7" y="996.4" font-size="20.25" text-anchor="middle" word-spacing="2.52">mice compared with</text>
<text x="1531.4" y="1022.1" font-size="20.25" text-anchor="middle" word-spacing="4.02">re-challenge survivors</text>
<text x="1528.8" y="1325.7" font-size="16.8" text-anchor="middle" style="font-family:DejaVu Sans,sans-serif">Difference</text>
<path d="M1835.5 1042.7V1202.2M1719.1 1192.3H1956" stroke="#000" stroke-width="1.7" stroke-linecap="round" stroke-dasharray="0.01 4.74" fill="none"/>
<path d="M1714.6 1041.2V1202.2M1699.6 1202.2H1956M1699.6 1162.2H1714.6M1699.6 1122.2H1714.6M1699.6 1082.2H1714.6M1699.6 1042.2H1714.6M1714.6 1202.2v15.4M1774.95 1202.2v15.4M1835.3 1202.2v15.4M1895.65 1202.2v15.4M1956 1202.2v15.4" stroke="#000" stroke-width="1.85" fill="none"/>
<text transform="translate(1695.6 1208.2) scale(0.95 1)" font-size="20" text-anchor="end">0</text>
<text transform="translate(1695.6 1168.2) scale(0.95 1)" font-size="20" text-anchor="end">5</text>
<text transform="translate(1695.6 1128.2) scale(0.95 1)" font-size="20" text-anchor="end">10</text>
<text transform="translate(1695.6 1088.2) scale(0.95 1)" font-size="20" text-anchor="end">15</text>
<text transform="translate(1695.6 1048.2) scale(0.95 1)" font-size="20" text-anchor="end">20</text>
<text transform="translate(1720.6 1237.9) rotate(-45)" font-size="19" text-anchor="end">-800000</text>
<text transform="translate(1780.95 1237.9) rotate(-45)" font-size="19" text-anchor="end">-400000</text>
<text transform="translate(1841.3 1237.9) rotate(-45)" font-size="19" text-anchor="end">0</text>
<text transform="translate(1901.65 1237.9) rotate(-45)" font-size="19" text-anchor="end">400000</text>
<text transform="translate(1962 1237.9) rotate(-45)" font-size="19" text-anchor="end">800000</text>
<circle cx="1833.9" cy="1202.3" r="4" fill="#de2d28"/>
<circle cx="1838.2" cy="1202.3" r="4" fill="#000"/>
<circle cx="1835.5" cy="1202.3" r="4" fill="#3244aa"/>
<circle cx="1932.1" cy="1176.1" r="4" fill="#f0641e"/>
<text x="1909.4" y="1160.6" font-size="17.1" letter-spacing="1.31">IL-15</text>
<text x="1837.8" y="984.4" font-size="20.25" text-anchor="middle" word-spacing="3.65">Re-challenged survivors compared</text>
<text x="1842.8" y="1009.8" font-size="20.25" text-anchor="middle" word-spacing="2.63">with re-challenged failures</text>
<text x="1841.4" y="1327.1" font-size="16.8" text-anchor="middle" style="font-family:DejaVu Sans,sans-serif">Difference</text>
</svg></body></html>
